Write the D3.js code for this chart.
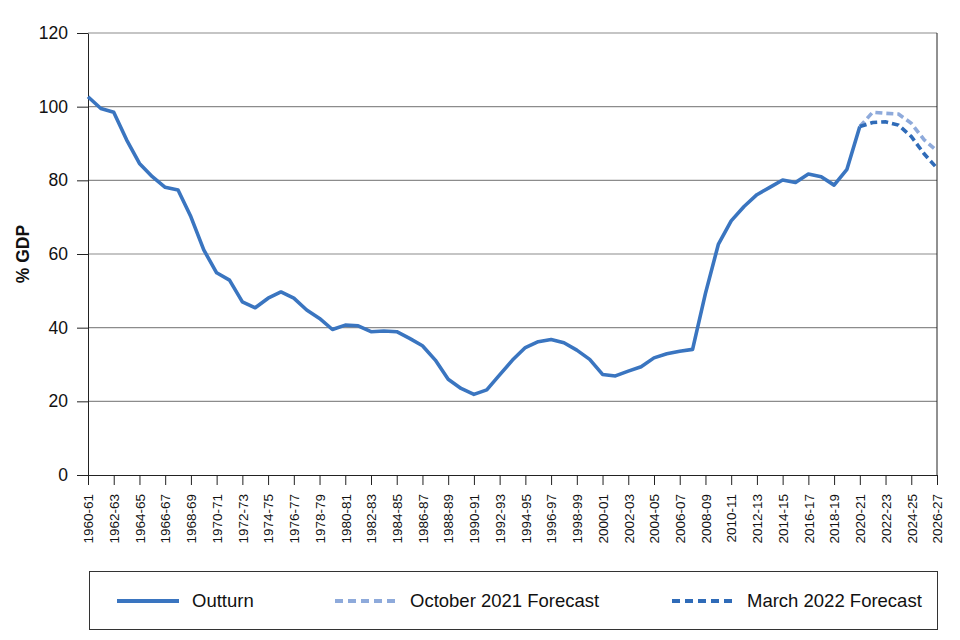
<!DOCTYPE html>
<html><head><meta charset="utf-8">
<script src="https://cdn.jsdelivr.net/npm/d3@7"></script>
<style>body{margin:0;background:#fff;}svg{display:block;font-family:"Liberation Sans",Arial,sans-serif;}</style>
</head><body><svg id="c" width="960" height="640"></svg>
<script>
const years = ["1960-61","1961-62","1962-63","1963-64","1964-65","1965-66","1966-67","1967-68","1968-69","1969-70",
"1970-71","1971-72","1972-73","1973-74","1974-75","1975-76","1976-77","1977-78","1978-79","1979-80",
"1980-81","1981-82","1982-83","1983-84","1984-85","1985-86","1986-87","1987-88","1988-89","1989-90",
"1990-91","1991-92","1992-93","1993-94","1994-95","1995-96","1996-97","1997-98","1998-99","1999-00",
"2000-01","2001-02","2002-03","2003-04","2004-05","2005-06","2006-07","2007-08","2008-09","2009-10",
"2010-11","2011-12","2012-13","2013-14","2014-15","2015-16","2016-17","2017-18","2018-19","2019-20",
"2020-21","2021-22","2022-23","2023-24","2024-25","2025-26","2026-27"];
const outturn = [102.7,99.5,98.5,91,84.6,81,78.1,77.4,70.1,61.1,
54.9,52.9,47,45.4,48,49.7,48,44.8,42.5,39.5,
40.7,40.5,38.9,39.1,38.9,37.1,35.1,31.2,26,23.5,
21.9,23.1,27.2,31.2,34.6,36.2,36.8,35.9,33.9,31.4,
27.3,26.9,28.2,29.4,31.8,32.9,33.6,34.1,49.3,62.6,
69,72.9,76.1,78.1,80.1,79.4,81.7,81,78.7,83,
94.6];
const octYears = ["2020-21","2021-22","2022-23","2023-24","2024-25","2025-26","2026-27"];
const octForecast = [94.6,98.5,98.2,98,95.5,91,88];
const marYears = ["2020-21","2021-22","2022-23","2023-24","2024-25","2025-26","2026-27"];
const marForecast = [94.6,95.7,95.9,95,91.9,87.2,83.3];
const yTicks = [0,20,40,60,80,100,120];
const legendLabels = ["Outturn","October 2021 Forecast","March 2022 Forecast"];

const colOut = "#3a75c0", colOct = "#8eaadb", colMar = "#2f6bb8";
const svg = d3.select("#c");
const L = 88, R = 937, T = 33, B = 475;
const x = d3.scalePoint().domain(years).range([L, R]);
const y = d3.scaleLinear().domain([0,120]).range([B, T]);

// gridlines
svg.append("g").selectAll("line").data(yTicks.filter(d=>d>0)).join("line")
  .attr("x1", L).attr("x2", R).attr("y1", d=>y(d)).attr("y2", d=>y(d))
  .attr("stroke", "#8c8c8c").attr("stroke-width", 1.2);

// right border
svg.append("line").attr("x1", R).attr("x2", R).attr("y1", T).attr("y2", B)
  .attr("stroke", "#222").attr("stroke-width", 1);

// y axis
const ya = svg.append("g").attr("transform", `translate(${L},0)`)
  .call(d3.axisLeft(y).tickValues(yTicks).tickSize(11).tickPadding(9).tickSizeOuter(0));
ya.select(".domain").attr("stroke", "#222");
ya.selectAll(".tick line").attr("stroke", "#222");
ya.selectAll("text").attr("font-size", 17.5).attr("fill", "#111").attr("font-family", "Liberation Sans, Arial, sans-serif");

// x axis
const shown = years.filter((d,i)=>i%2===0);
const xa = svg.append("g").attr("transform", `translate(0,${B})`)
  .call(d3.axisBottom(x).tickValues(shown).tickSize(10).tickSizeOuter(0));
xa.select(".domain").attr("stroke", "#222");
xa.selectAll(".tick line").attr("stroke", "#222");
xa.selectAll("text").attr("font-size", 13.5).attr("fill", "#111")
  .attr("font-family", "Liberation Sans, Arial, sans-serif")
  .attr("transform", "rotate(-90)").attr("text-anchor", "end")
  .attr("x", -19).attr("y", 0).attr("dy", "0.35em");

// y title
svg.append("text").attr("transform", `translate(29,${(T+B)/2}) rotate(-90)`)
  .attr("text-anchor", "middle").attr("font-size", 17.5).attr("font-weight", "bold")
  .attr("fill", "#111").text("% GDP");

const line = d3.line().x(d=>x(d[0])).y(d=>y(d[1]));
svg.append("path").datum(octYears.map((d,i)=>[d, octForecast[i]]))
  .attr("d", line).attr("fill","none").attr("stroke", colOct).attr("stroke-width", 3.6)
  .attr("stroke-dasharray", "7,4");
svg.append("path").datum(marYears.map((d,i)=>[d, marForecast[i]]))
  .attr("d", line).attr("fill","none").attr("stroke", colMar).attr("stroke-width", 3.6)
  .attr("stroke-dasharray", "7,4");
svg.append("path").datum(outturn.map((v,i)=>[years[i], v]))
  .attr("d", line).attr("fill","none").attr("stroke", colOut).attr("stroke-width", 3.6)
  .attr("stroke-linejoin", "round");

// legend
const lg = svg.append("g");
lg.append("rect").attr("x", 89.5).attr("y", 571.5).attr("width", 848).attr("height", 58)
  .attr("fill", "none").attr("stroke", "#333").attr("stroke-width", 1);
const items = [
  {label: legendLabels[0], color: colOut, dash: null, x0: 117},
  {label: legendLabels[1], color: colOct, dash: "8,5", x0: 335},
  {label: legendLabels[2], color: colMar, dash: "8,5", x0: 672}
];
items.forEach(it => {
  lg.append("line").attr("x1", it.x0).attr("x2", it.x0 + 62).attr("y1", 601).attr("y2", 601)
    .attr("stroke", it.color).attr("stroke-width", 3.8).attr("stroke-dasharray", it.dash);
  lg.append("text").attr("x", it.x0 + 75).attr("y", 601).attr("dy", "0.35em")
    .attr("font-size", 18.5).attr("fill", "#111").text(it.label);
});
</script></body></html>
